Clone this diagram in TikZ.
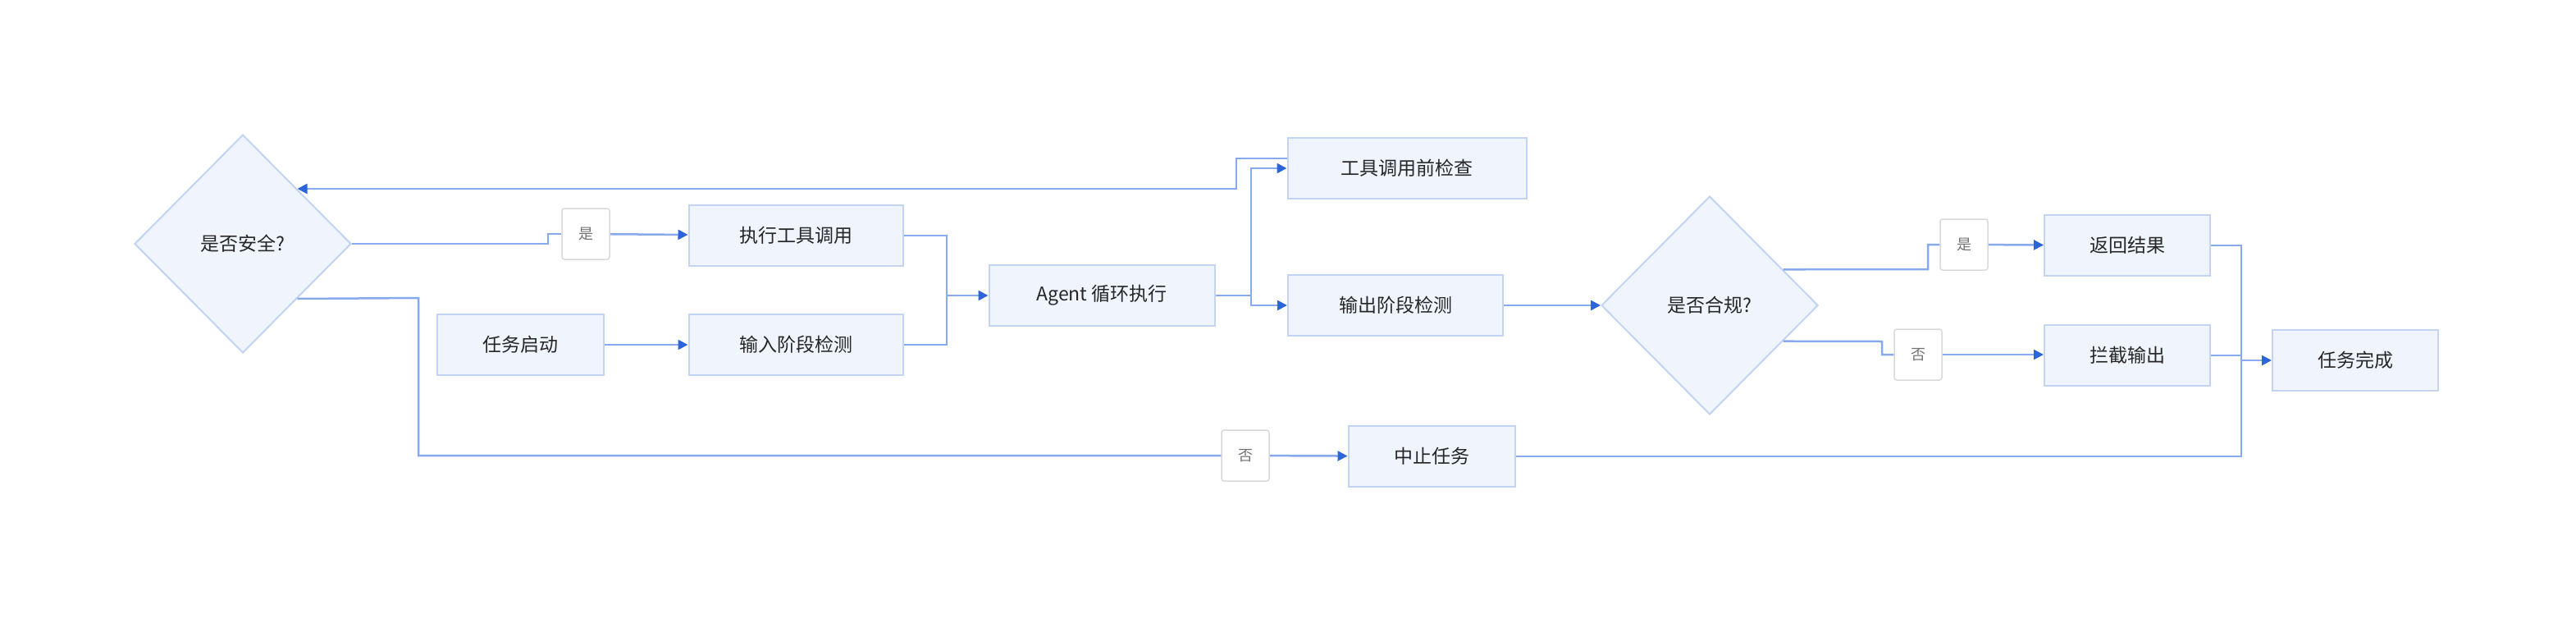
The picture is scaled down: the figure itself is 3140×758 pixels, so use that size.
\documentclass[tikz,border=0pt]{standalone}
\usepackage{fontspec}
\setmainfont{Noto Sans CJK SC}
\usetikzlibrary{arrows.meta,shapes.geometric}
\definecolor{boxfill}{HTML}{EFF4FD}
\definecolor{boxline}{HTML}{C3D4F3}
\definecolor{flowline}{HTML}{86AAEC}
\definecolor{tipblue}{HTML}{2C64DA}

\begin{document}
\begin{tikzpicture}[x=1pt, y=-1pt]
 \tikzset{every node/.style={font=\fontsize{23}{26}\selectfont, text=black!85},
          stage/.style={rectangle, draw=boxline, fill=boxfill, line width=2,
                       minimum height=74, inner sep=0pt},
          check/.style={diamond, draw=boxline, fill=boxfill, line width=2,
                        minimum width=264, minimum height=266, inner sep=0pt},
          tag/.style={rectangle, rounded corners=3, draw=black!15, fill=white,
                      line width=1.5, minimum width=58, minimum height=62,
                      font=\fontsize{18}{20}\selectfont, text=black!55},
          flow/.style={draw=flowline, line width=2.5},
          go/.style={flow, -{Triangle[length=12, width=12, fill=tipblue, color=tipblue]}}}

\useasboundingbox (0,0) rectangle (3140,758);

% boxes
\node[check] (safe) at (296,297) {是否安全?};
\node[stage, minimum width=203] (start) at (634,420) {任务启动};
\node[stage, minimum width=261] (tool) at (970,287) {执行工具调用};
\node[stage, minimum width=261] (input) at (970,420) {输入阶段检测};
\node[stage, minimum width=275] (loop) at (1343,360) {Agent 循环执行};
\node[stage, minimum width=291] (precheck) at (1715,205) {工具调用前检查};
\node[stage, minimum width=262] (output) at (1701,372) {输出阶段检测};
\node[stage, minimum width=203] (abort) at (1745,556) {中止任务};
\node[check] (ok) at (2084,372) {是否合规?};
\node[stage, minimum width=202] (result) at (2593,299) {返回结果};
\node[stage, minimum width=202] (block) at (2593,433) {拦截输出};
\node[stage, minimum width=202] (done) at (2871,439) {任务完成};

% tags
\node[tag] (yesA) at (714,285) {是};
\node[tag] (noA) at (1518,555) {否};
\node[tag] (yesB) at (2394,298) {是};
\node[tag] (noB) at (2338,432) {否};

% bends
\coordinate (jA) at (668,297);
\coordinate (jB) at (510,363);
\coordinate (jIn) at (1154,360);
\coordinate (jOut) at (1525,360);
\coordinate (jBack) at (1507,193);
\coordinate (jYes) at (2350,328);
\coordinate (jNo) at (2294,416);
\coordinate (jEnd) at (2732,439);

% connectors
\draw[go] (start) -- (input);
\draw[flow] (tool.east) -| (jIn);
\draw[flow] (input.east) -| (jIn);
\draw[go] (jIn) -- (loop.west);
\draw[flow] (loop.east) -- (jOut);
\draw[go] (jOut) |- (precheck.west);
\draw[go] (jOut) |- (output.west);
\draw[go] (precheck.west |- jBack) -- (jBack) |- (safe.north east);
\draw[flow] (safe.east) -- (jA) |- (yesA.west);
\draw[go] (yesA) -- (tool);
\draw[flow] (safe.south east) -- (jB) |- (noA.west);
\draw[go] (noA) -- (abort);
\draw[go] (output) -- (ok);
\draw[flow] (ok.26.5) -- (jYes) |- (yesB.west);
\draw[go] (yesB) -- (result);
\draw[flow] (ok.-26.5) -- (jNo) |- (noB.west);
\draw[go] (noB) -- (block.west |- noB);
\draw[flow] (result.east) -| (jEnd);
\draw[flow] (block.east) -| (jEnd);
\draw[flow] (abort.east) -| (jEnd);
\draw[go] (jEnd) -- (done.west);
\end{tikzpicture}
\end{document}
